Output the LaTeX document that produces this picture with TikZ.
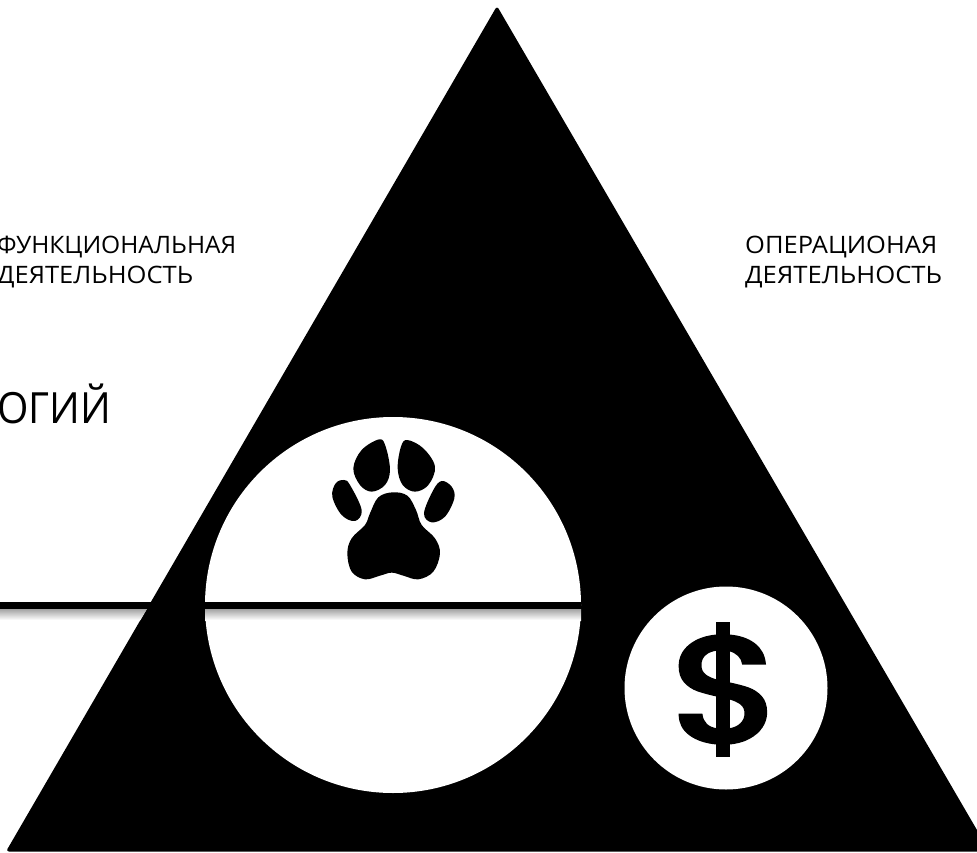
\documentclass[tikz,border=0pt]{standalone}
\usepackage{fontspec}
\setmainfont{Open Sans}
\newfontfamily\dollarfont{Poppins Medium}[FakeBold=1.2]
\newcommand{\fitwidth}[2]{\resizebox{#1pt}{\height}{#2}}
\begin{document}
\begin{tikzpicture}[x=1pt,y=-1pt,
  lab/.style={anchor=base west,inner sep=0pt,font=\fontsize{24}{30}\selectfont},
  shadowband/.style={top color=black!36,bottom color=white,draw=none},
  pawpart/.style={fill=black,draw=none}]
\useasboundingbox (0,0) rectangle (977,853);
\clip (0,0) rectangle (977,853);
\fill[black,rounded corners=3pt] (497,6) -- (989.5,851.5) -- (6,851.5) -- cycle;
\fill[white] (393,605) circle (188);
\fill[white] (726,688) circle (101.5);
% bar and its shadow
\begin{scope}
\clip (0,609) -- (147,609) -- (140.5,620) -- (0,620) -- cycle;
\shade[shadowband] (0,609) rectangle (160,620);
\end{scope}
\shade[shadowband] (205,609) rectangle (581,620);
\fill[black] (0,602) rectangle (160,609);
\fill[black] (205,602) rectangle (581,609);
% paw
\begin{scope}[shift={(320,430)},x=0.3333pt,y=-0.3333pt]
\fill[pawpart] plot[smooth cycle,tension=0.6] coordinates {(218,187)(262,197)(288,240)(305,285)(345,325)(360,370)(340,425)(295,448)(250,437)(215,428)(180,437)(135,448)(95,425)(82,370)(95,325)(135,285)(150,250)(175,202)};
\fill[pawpart] plot[smooth cycle,tension=0.6] coordinates {(178,28)(197,50)(210,120)(195,165)(155,185)(120,165)(100,115)(125,60)};
\fill[pawpart] plot[smooth cycle,tension=0.6] coordinates {(262,30)(310,55)(345,110)(325,165)(285,185)(248,165)(233,115)(243,50)};
\fill[pawpart] plot[smooth cycle,tension=0.6] coordinates {(72,150)(90,165)(125,240)(105,273)(65,255)(37,200)(47,160)};
\fill[pawpart] plot[smooth cycle,tension=0.6] coordinates {(365,153)(395,170)(403,205)(375,260)(335,277)(312,250)(340,180)};
\end{scope}
% texts
\node[lab] (fn1) at (-3,253) {\fitwidth{239}{ФУНКЦИОНАЛЬНАЯ}};
\node[lab] (fn2) at (-3,283) {\fitwidth{196}{ДЕЯТЕЛЬНОСТЬ}};
\node[lab] (op1) at (745,253) {\fitwidth{192}{ОПЕРАЦИОНАЯ}};
\node[lab] (op2) at (745,283) {\fitwidth{197}{ДЕЯТЕЛЬНОСТЬ}};
\node[lab,font=\fontsize{43}{50}\selectfont] (og) at (-3,423) {\fitwidth{114}{ОГИЙ}};
\node[inner sep=0pt,font=\dollarfont\fontsize{155}{155}\selectfont] (dl) at (727,689.5) {\resizebox*{116pt}{133pt}{\$}};
\end{tikzpicture}
\end{document}
